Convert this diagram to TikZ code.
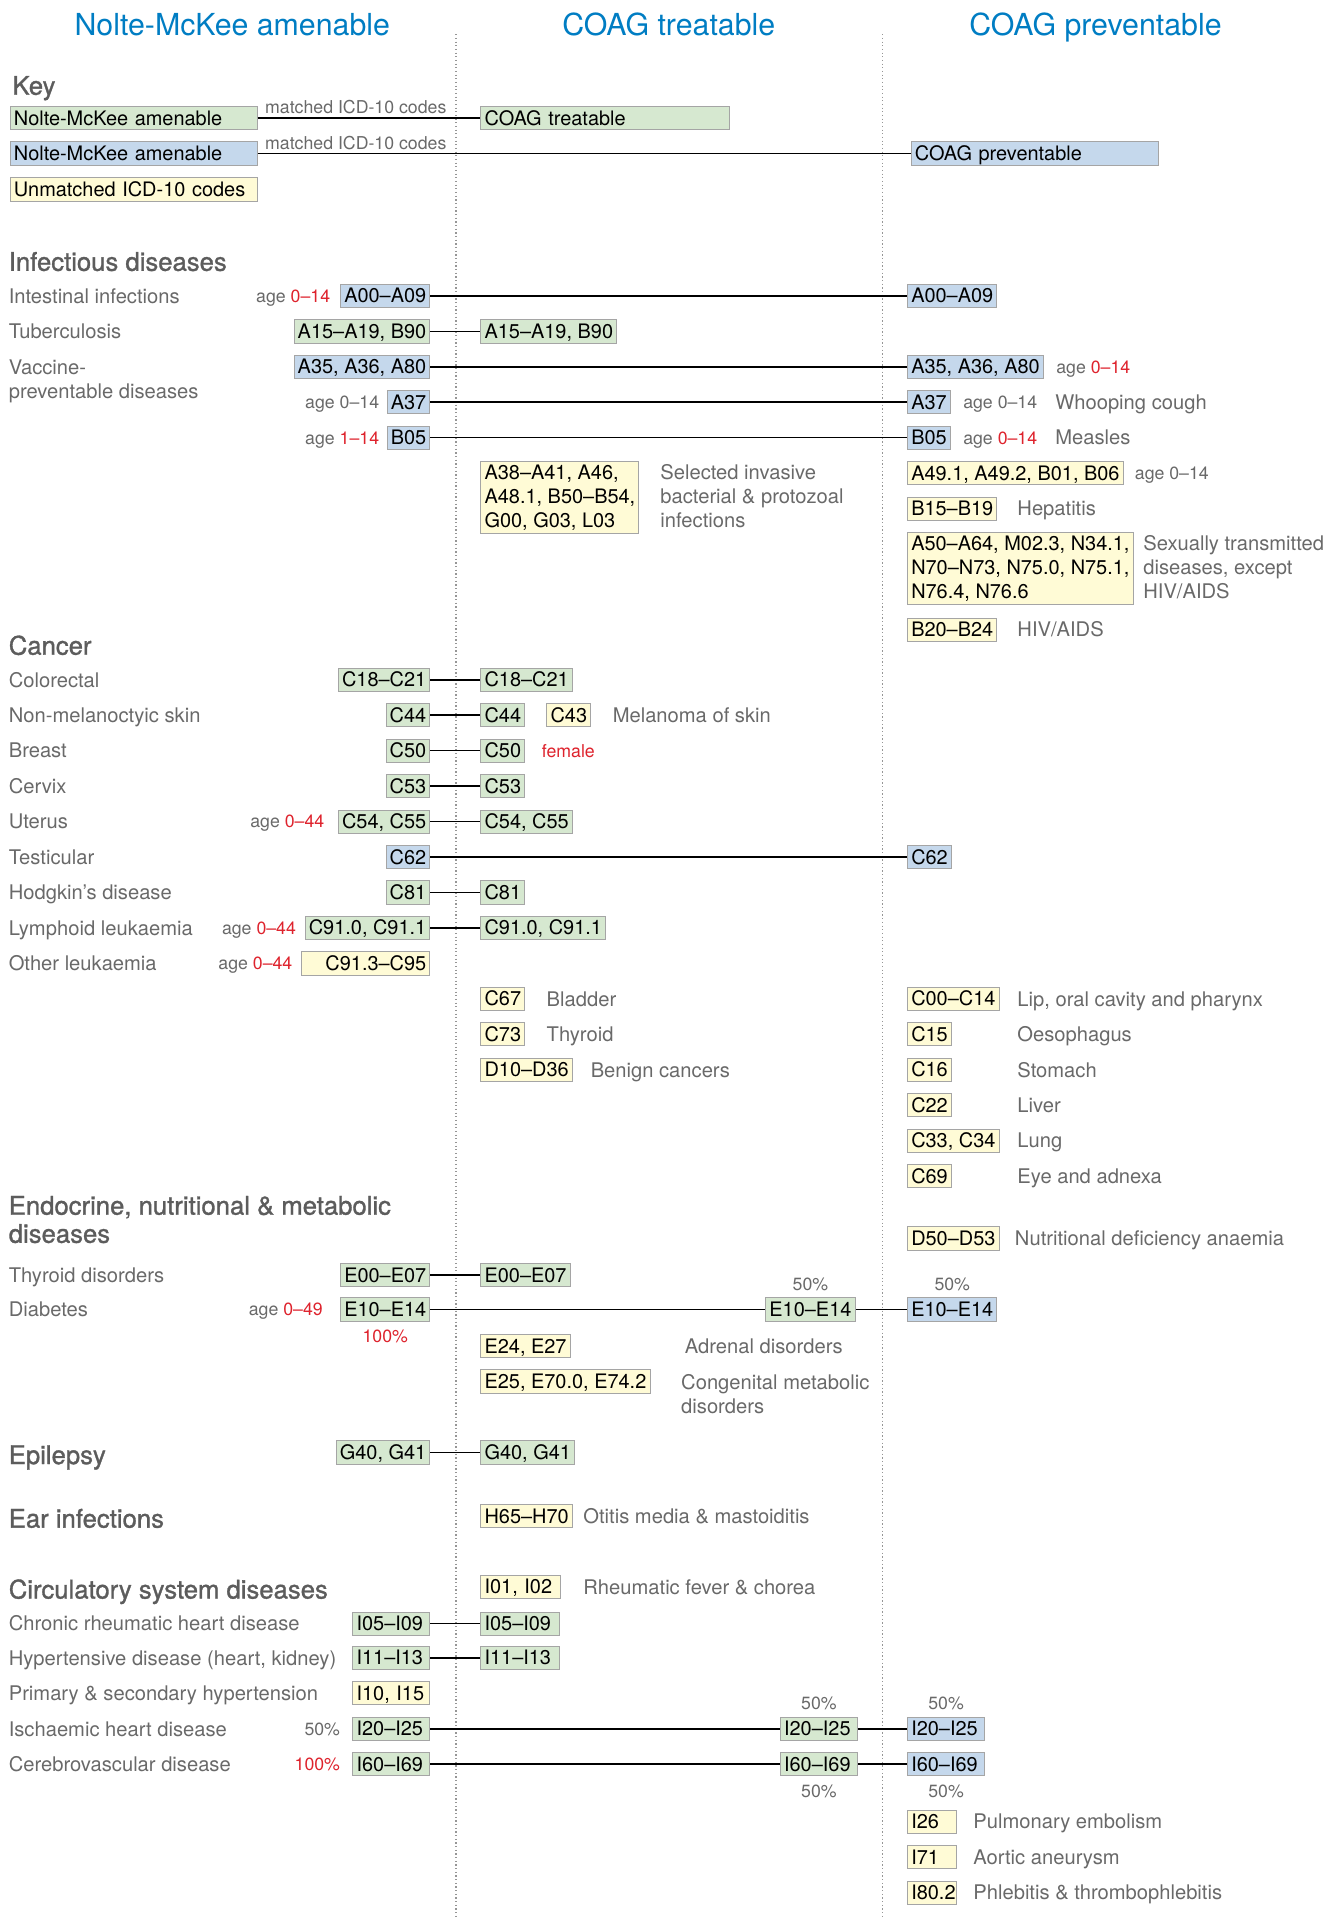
\documentclass[tikz,border=0pt]{standalone}
\usepackage{fontspec}
\setmainfont{TeX Gyre Heros}
\newfontfamily\headfamily[FakeBold=1.2]{TeX Gyre Heros}
\usepackage{xcolor}
\usepackage{tikz}
\usetikzlibrary{positioning}
\definecolor{trfill}{RGB}{214,232,208}
\definecolor{prfill}{RGB}{197,216,236}
\definecolor{unfill}{RGB}{255,251,214}
\definecolor{boxline}{RGB}{165,165,165}
\definecolor{titleblue}{RGB}{0,125,195}
\definecolor{hlred}{RGB}{222,35,45}
\definecolor{txtgray}{RGB}{105,105,105}
\definecolor{headgray}{RGB}{92,92,92}
\definecolor{divgray}{RGB}{150,150,150}
\newcommand{\fbody}{\fontsize{16.5}{19.5}\selectfont}
\newcommand{\fcode}{\fontsize{16.3}{19.5}\selectfont}
\newcommand{\fsmall}{\fontsize{14.5}{17}\selectfont}
\newcommand{\fhead}{\headfamily\fontsize{21}{23}\selectfont}
\newcommand{\ftitle}{\fontsize{24.8}{28}\selectfont}
\newcommand{\agehl}[1]{\textcolor{hlred}{#1}}

\begin{document}
\begin{tikzpicture}[
  x=1pt, y=-1pt,
  font=\fbody,
  cbox/.style={draw=boxline, line width=0.7pt, inner xsep=3pt,
               inner ysep=0.75pt, text height=14.5pt, text depth=3pt,
               font=\fcode, text=black},
  tbox/.style={cbox, fill=trfill},
  pbox/.style={cbox, fill=prfill},
  ubox/.style={cbox, fill=unfill},
  multi/.style={text height={}, text depth={}, inner ysep=3pt, align=left},
  wide/.style={text width=#1, align=left},
  wider/.style={text width=#1, align=right},
  rowlbl/.style={inner sep=0pt, anchor=west, text height=14.4pt,
                 text depth=2.5pt, text=txtgray, font=\fbody},
  multilbl/.style={inner sep=0pt, anchor=north west, align=left,
                   text=txtgray, font=\fbody},
  agelbl/.style={inner sep=0pt, text height=12.4pt, text depth=2pt,
                 text=txtgray, font=\fsmall},
  heading/.style={inner sep=0pt, anchor=west, text height=17pt,
                  text depth=2pt, text=headgray, font=\fhead},
  coltitle/.style={inner sep=0pt, text height=20pt, text depth=2pt,
                   text=titleblue, font=\ftitle},
  link/.style={draw=black, line width=1.3pt},
  divider/.style={draw=divgray, line width=1pt, dotted},
]
\useasboundingbox (0,0) rectangle (1094,1568);

% =================================================================
%  COLUMN TITLES AND DIVIDERS
% =================================================================
\node[coltitle] (tNM) at (190,20) {Nolte-McKee amenable};
\node[coltitle] (tTr) at (547,20) {COAG treatable};
\node[coltitle] (tPr) at (896,20) {COAG preventable};

\draw[divider] (373,28) -- (373,1568);
\draw[divider] (722,28) -- (722,1568);

% =================================================================
%  KEY
% =================================================================
\node[heading] (hKey) at (10,70) {Key};
\node[tbox, wide=196pt, anchor=west] (kNMt) at (8,96.5) {Nolte-McKee amenable};
\node[tbox, wide=197pt, anchor=west] (kTr) at (393,96.5) {COAG treatable};
\node[pbox, wide=196pt, anchor=west] (kNMp) at (8,125.5) {Nolte-McKee amenable};
\node[pbox, wide=196pt, anchor=west] (kPr) at (745,125.5) {COAG preventable};
\node[ubox, wide=196pt, anchor=west] (kUn) at (8,155) {Unmatched ICD-10 codes};
\node[agelbl] (kMatchT) at (291,88) {matched ICD-10 codes};
\node[agelbl] (kMatchP) at (291,117) {matched ICD-10 codes};

\draw[link] (kNMt) -- (kTr);
\draw[link] (kNMp) -- (kPr);

% =================================================================
%  INFECTIOUS DISEASES
% =================================================================
\node[heading] (hInf) at (7,214) {Infectious diseases};

\node[rowlbl] (lIntest) at (7,242) {Intestinal infections};
\node[pbox, anchor=east] (nA00) at (352,242) {A00--A09};
\node[pbox, anchor=west] (pA00) at (742,242) {A00--A09};
\node[agelbl, left=8pt of nA00] (aA00) {age \agehl{0--14}};

\node[rowlbl] (lTub) at (7,271) {Tuberculosis};
\node[tbox, anchor=east] (nA15) at (352,271) {A15--A19, B90};
\node[tbox, anchor=west] (tA15) at (393,271) {A15--A19, B90};

\node[multilbl] (lVacc) at (7,294) {Vaccine-\\preventable diseases};
\node[pbox, anchor=east] (nA35) at (352,300) {A35, A36, A80};
\node[pbox, anchor=west] (pA35) at (742,300) {A35, A36, A80};
\node[agelbl, right=10pt of pA35] (aA35) {age \agehl{0--14}};

\node[pbox, anchor=east] (nA37) at (352,329) {A37};
\node[pbox, anchor=west] (pA37) at (742,329) {A37};
\node[agelbl, left=6pt of nA37] (aA37n) {age 0--14};
\node[agelbl, right=10pt of pA37] (aA37p) {age 0--14};
\node[rowlbl] (dWhoop) at (863,329) {Whooping cough};

\node[pbox, anchor=east] (nB05) at (352,358) {B05};
\node[pbox, anchor=west] (pB05) at (742,358) {B05};
\node[agelbl, left=6pt of nB05] (aB05n) {age \agehl{1--14}};
\node[agelbl, right=10pt of pB05] (aB05p) {age \agehl{0--14}};
\node[rowlbl] (dMeasles) at (863,358) {Measles};

\node[ubox, multi, anchor=north west] (tA38) at (393,377)
  {A38--A41, A46,\\A48.1, B50--B54,\\G00, G03, L03};
\node[multilbl] (dInvasive) at (540,380)
  {Selected invasive\\bacterial \& protozoal\\infections};

\node[ubox, anchor=west] (pA49) at (742,387) {A49.1, A49.2, B01, B06};
\node[agelbl, right=9pt of pA49] (aA49) {age 0--14};

\node[ubox, anchor=west] (pB15) at (742,416) {B15--B19};
\node[rowlbl] (dHep) at (832,416) {Hepatitis};

\node[ubox, multi, anchor=north west] (pA50) at (742,435)
  {A50--A64, M02.3, N34.1,\\N70--N73, N75.0, N75.1,\\N76.4, N76.6};
\node[multilbl] (dSTD) at (935,438)
  {Sexually transmitted\\diseases, except\\HIV/AIDS};

\node[ubox, anchor=west] (pB20) at (742,515) {B20--B24};
\node[rowlbl] (dHIV) at (832,515) {HIV/AIDS};

\draw[link] (nA00) -- (pA00);
\draw[link] (nA15) -- (tA15);
\draw[link] (nA35) -- (pA35);
\draw[link] (nA37) -- (pA37);
\draw[link] (nB05) -- (pB05);

% =================================================================
%  CANCER
% =================================================================
\node[heading] (hCan) at (7,528) {Cancer};

\node[rowlbl] (lColo) at (7,556) {Colorectal};
\node[tbox, anchor=east] (nC18) at (352,556) {C18--C21};
\node[tbox, anchor=west] (tC18) at (393,556) {C18--C21};

\node[rowlbl] (lSkin) at (7,585) {Non-melanoctyic skin};
\node[tbox, anchor=east] (nC44) at (352,585) {C44};
\node[tbox, anchor=west] (tC44) at (393,585) {C44};
\node[ubox, anchor=west] (uC43) at (447,585) {C43};
\node[rowlbl] (dMelan) at (501,585) {Melanoma of skin};

\node[rowlbl] (lBreast) at (7,614) {Breast};
\node[tbox, anchor=east] (nC50) at (352,614) {C50};
\node[tbox, anchor=west] (tC50) at (393,614) {C50};
\node[agelbl, anchor=west, text=hlred] (aFemale) at (443,614) {female};

\node[rowlbl] (lCervix) at (7,643) {Cervix};
\node[tbox, anchor=east] (nC53) at (352,643) {C53};
\node[tbox, anchor=west] (tC53) at (393,643) {C53};

\node[rowlbl] (lUterus) at (7,672) {Uterus};
\node[tbox, anchor=east] (nC54) at (352,672) {C54, C55};
\node[tbox, anchor=west] (tC54) at (393,672) {C54, C55};
\node[agelbl, left=11pt of nC54] (aC54) {age \agehl{0--44}};

\node[rowlbl] (lTest) at (7,701) {Testicular};
\node[pbox, anchor=east] (nC62) at (352,701) {C62};
\node[pbox, anchor=west] (pC62) at (742,701) {C62};

\node[rowlbl] (lHodg) at (7,730) {Hodgkin's disease};
\node[tbox, anchor=east] (nC81) at (352,730) {C81};
\node[tbox, anchor=west] (tC81) at (393,730) {C81};

\node[rowlbl] (lLymph) at (7,759) {Lymphoid leukaemia};
\node[tbox, anchor=east] (nC91) at (352,759) {C91.0, C91.1};
\node[tbox, anchor=west] (tC91) at (393,759) {C91.0, C91.1};
\node[agelbl, left=7pt of nC91] (aC91) {age \agehl{0--44}};

\node[rowlbl] (lOther) at (7,788) {Other leukaemia};
\node[ubox, wider=99pt, anchor=east] (nC913) at (352,788) {C91.3--C95};
\node[agelbl, left=7pt of nC913] (aC913) {age \agehl{0--44}};

\node[ubox, anchor=west] (uC67) at (393,817) {C67};
\node[rowlbl] (dBladder) at (447,817) {Bladder};
\node[ubox, anchor=west] (uC73) at (393,846) {C73};
\node[rowlbl] (dThyroid) at (447,846) {Thyroid};
\node[ubox, anchor=west] (uD10) at (393,875) {D10--D36};
\node[rowlbl] (dBenign) at (483,875) {Benign cancers};

\node[ubox, anchor=west] (uC00) at (742,817) {C00--C14};
\node[rowlbl] (dLip) at (832,817) {Lip, oral cavity and pharynx};
\node[ubox, anchor=west] (uC15) at (742,846) {C15};
\node[rowlbl] (dOes) at (832,846) {Oesophagus};
\node[ubox, anchor=west] (uC16) at (742,875) {C16};
\node[rowlbl] (dStom) at (832,875) {Stomach};
\node[ubox, anchor=west] (uC22) at (742,904) {C22};
\node[rowlbl] (dLiver) at (832,904) {Liver};
\node[ubox, anchor=west] (uC33) at (742,933) {C33, C34};
\node[rowlbl] (dLung) at (832,933) {Lung};
\node[ubox, anchor=west] (uC69) at (742,962) {C69};
\node[rowlbl] (dEye) at (832,962) {Eye and adnexa};

\draw[link] (nC18) -- (tC18);
\draw[link] (nC44) -- (tC44);
\draw[link] (nC50) -- (tC50);
\draw[link] (nC53) -- (tC53);
\draw[link] (nC54) -- (tC54);
\draw[link] (nC62) -- (pC62);
\draw[link] (nC81) -- (tC81);
\draw[link] (nC91) -- (tC91);

% =================================================================
%  ENDOCRINE, NUTRITIONAL & METABOLIC
% =================================================================
\node[heading, anchor=north west, align=left, text height={}, text depth={}]
  (hEndo) at (7,978) {Endocrine, nutritional \& metabolic\\diseases};

\node[ubox, anchor=west] (uD50) at (742,1013) {D50--D53};
\node[rowlbl] (dAnaem) at (830,1013) {Nutritional deficiency anaemia};

\node[rowlbl] (lThyr) at (7,1043) {Thyroid disorders};
\node[tbox, anchor=east] (nE00) at (352,1043) {E00--E07};
\node[tbox, anchor=west] (tE00) at (393,1043) {E00--E07};

\node[rowlbl] (lDiab) at (7,1071) {Diabetes};
\node[tbox, anchor=east] (nE10) at (352,1071) {E10--E14};
\node[tbox, anchor=west] (tE10) at (626,1071) {E10--E14};
\node[pbox, anchor=west] (pE10) at (742,1071) {E10--E14};
\node[agelbl, left=14pt of nE10] (aE10) {age \agehl{0--49}};
\node[agelbl, text=hlred, below=5pt of nE10] (sE10n) {100\%};
\node[agelbl, above=3.5pt of tE10] (sE10t) {50\%};
\node[agelbl, above=3.5pt of pE10] (sE10p) {50\%};

\node[ubox, anchor=west] (uE24) at (393,1101) {E24, E27};
\node[rowlbl] (dAdren) at (560,1101) {Adrenal disorders};
\node[ubox, anchor=west] (uE25) at (393,1130) {E25, E70.0, E74.2};
\node[multilbl] (dCong) at (557,1124) {Congenital metabolic\\disorders};

\draw[link] (nE00) -- (tE00);
\draw[link] (nE10) -- (tE10);
\draw[link] (tE10) -- (pE10);

% =================================================================
%  EPILEPSY, EAR INFECTIONS
% =================================================================
\node[heading] (hEpi) at (7,1190) {Epilepsy};
\node[tbox, anchor=east] (nG40) at (352,1188) {G40, G41};
\node[tbox, anchor=west] (tG40) at (393,1188) {G40, G41};
\draw[link] (nG40) -- (tG40);

\node[heading] (hEar) at (7,1242) {Ear infections};
\node[ubox, anchor=west] (uH65) at (393,1240) {H65--H70};
\node[rowlbl] (dOtitis) at (477,1240) {Otitis media \& mastoiditis};

% =================================================================
%  CIRCULATORY SYSTEM
% =================================================================
\node[heading] (hCirc) at (7,1300) {Circulatory system diseases};
\node[ubox, wide=59pt, anchor=west] (uI01) at (393,1298) {I01, I02};
\node[rowlbl] (dRheum) at (477,1298) {Rheumatic fever \& chorea};

\node[rowlbl] (lChron) at (7,1328) {Chronic rheumatic heart disease};
\node[tbox, wide=57pt, anchor=east] (nI05) at (352,1328) {I05--I09};
\node[tbox, wide=58pt, anchor=west] (tI05) at (393,1328) {I05--I09};

\node[rowlbl] (lHyper) at (7,1356) {Hypertensive disease (heart, kidney)};
\node[tbox, wide=57pt, anchor=east] (nI11) at (352,1356) {I11--I13};
\node[tbox, wide=58pt, anchor=west] (tI11) at (393,1356) {I11--I13};

\node[rowlbl] (lPrim) at (7,1385) {Primary \& secondary hypertension};
\node[ubox, wide=57pt, anchor=east] (nI10) at (352,1385) {I10, I15};

\node[rowlbl] (lIsch) at (7,1414) {Ischaemic heart disease};
\node[tbox, wide=57pt, anchor=east] (nI20) at (352,1414) {I20--I25};
\node[tbox, wide=57pt, anchor=west] (tI20) at (638,1414) {I20--I25};
\node[pbox, wide=57pt, anchor=west] (pI20) at (742,1414) {I20--I25};
\node[agelbl, left=10pt of nI20] (sI20n) {50\%};
\node[agelbl, above=4pt of tI20] (sI20t) {50\%};
\node[agelbl, above=4pt of pI20] (sI20p) {50\%};

\node[rowlbl] (lCereb) at (7,1443) {Cerebrovascular disease};
\node[tbox, wide=57pt, anchor=east] (nI60) at (352,1443) {I60--I69};
\node[tbox, wide=57pt, anchor=west] (tI60) at (638,1443) {I60--I69};
\node[pbox, wide=57pt, anchor=west] (pI60) at (742,1443) {I60--I69};
\node[agelbl, text=hlred, left=10pt of nI60] (sI60n) {100\%};
\node[agelbl, below=5pt of tI60] (sI60t) {50\%};
\node[agelbl, below=5pt of pI60] (sI60p) {50\%};

\node[ubox, wide=34pt, anchor=west] (uI26) at (742,1490) {I26};
\node[rowlbl] (dPulm) at (796,1490) {Pulmonary embolism};
\node[ubox, wide=34pt, anchor=west] (uI71) at (742,1519) {I71};
\node[rowlbl] (dAort) at (796,1519) {Aortic aneurysm};
\node[ubox, wide=34pt, anchor=west] (uI80) at (742,1548) {I80.2};
\node[rowlbl] (dPhleb) at (796,1548) {Phlebitis \& thrombophlebitis};

\draw[link] (nI05) -- (tI05);
\draw[link] (nI11) -- (tI11);
\draw[link] (nI20) -- (tI20);
\draw[link] (tI20) -- (pI20);
\draw[link] (nI60) -- (tI60);
\draw[link] (tI60) -- (pI60);

\end{tikzpicture}
\end{document}
